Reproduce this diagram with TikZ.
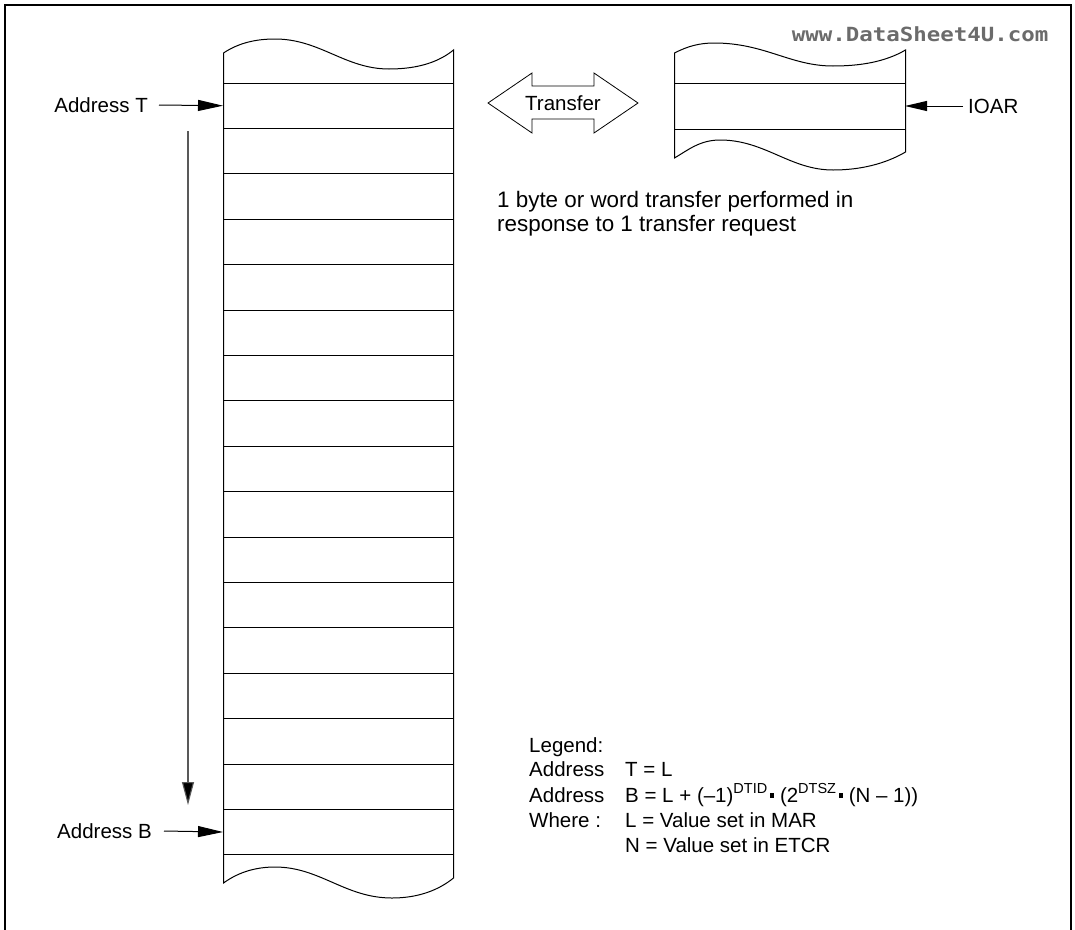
\documentclass[tikz,border=0pt]{standalone}
\usepackage{fontspec}
\setmainfont{Liberation Sans}
\newfontfamily\wmfont{DejaVu Sans Mono}
\usetikzlibrary{arrows.meta}
\newcommand{\mysup}[1]{\raisebox{0.4em}{\fontsize{14.5}{14.5}\selectfont #1}}
\newcommand{\mydot}{\hspace{0.12em}\rule[0.22em]{0.2em}{0.2em}\hspace{0.3em}}
\begin{document}
\begin{tikzpicture}[x=1pt,y=-1pt,
  lbl/.style={font=\fontsize{20.5}{24}\selectfont, inner sep=0pt},
  memline/.style={line width=1pt},
  ptr/.style={line width=1pt, -{Triangle[length=25pt,width=11pt]}},
  vptr/.style={line width=1.1pt, draw=black!65, -{Triangle[length=23pt,width=12pt,fill=black]}},
  iptr/.style={line width=1pt, -{Triangle[length=22pt,width=10pt]}},
]
\useasboundingbox (0,0) rectangle (1075,929);
\draw[line width=2.5pt] (5,935) -- (5,5) -- (1071,5) -- (1071,935);

% memory column
\draw[memline] (223.5,53) .. controls (240,42) and (258,39) .. (275,39)
  .. controls (320,39) and (345,69) .. (389,69)
  .. controls (420,69) and (440,61) .. (453.5,50) -- (453.5,878)
  .. controls (440,889) and (420,898) .. (392,898)
  .. controls (345,898) and (320,867) .. (275,867)
  .. controls (258,867) and (240,871) .. (223.5,883) -- cycle;
\foreach \i in {0,...,17} {
  \draw[memline] (223.5,{floor(83+45.41*\i)+0.5}) -- (453.5,{floor(83+45.41*\i)+0.5});
}
\coordinate (colT) at (223,105.7);
\coordinate (colB) at (223,832);
\coordinate (vtop) at (188,131);
\coordinate (vbot) at (188,805);

\node[lbl, anchor=east] (addrT) at (148,105) {Address T};
\node[lbl, anchor=east] (addrB) at (152,831) {Address B};
\draw[ptr] ([xshift=11pt]addrT.east) -- (colT);
\draw[ptr] ([xshift=12pt]addrB.east) -- (colB);
\draw[vptr] (vtop) -- (vbot);

% transfer double arrow
\draw[line width=0.8pt, line join=miter] (488,103) -- (532,73) -- (532,86) -- (594,86) -- (594,73)
  -- (638,103) -- (594,133) -- (594,119) -- (532,119) -- (532,133) -- cycle;
\node[lbl] (transfer) at (563,103) {Transfer};

% IO block
\draw[memline] (674.5,53) .. controls (688,46) and (700,43) .. (714,43)
  .. controls (765,43) and (790,66) .. (833,66)
  .. controls (860,66) and (885,62) .. (905.5,50) -- (905.5,152)
  .. controls (885,164) and (860,170) .. (833,170)
  .. controls (790,170) and (765,140) .. (720,140)
  .. controls (700,140) and (688,150) .. (674.5,158) -- cycle;
\draw[memline] (674.5,83.5) -- (905.5,83.5);
\draw[memline] (674.5,129.5) -- (905.5,129.5);
\coordinate (ioR) at (905,106);
\node[lbl, anchor=west] (ioar) at (968,106) {IOAR};
\draw[iptr] ([xshift=-5pt]ioar.west) -- (ioR);

\node[lbl, anchor=north west, align=left, font=\fontsize{22.4}{24}\selectfont] (note) at (497,191)
  {1 byte or word transfer performed in\\response to 1 transfer request};

% watermark
\node[fill=white, fill opacity=0.55, text opacity=1, inner sep=2pt, text=black!58,
  font=\wmfont\bfseries\fontsize{19.5}{20}\selectfont] (wm) at (920,34)
  {\scalebox{1.15}[1]{www.DataSheet4U.com}};

% legend
\node[lbl, anchor=base west] (lg0) at (529,752) {Legend:};
\node[lbl, anchor=base west] (lg1) at (529,776) {Address};
\node[lbl, anchor=base west] (lg1b) at (625,776) {T = L};
\node[lbl, anchor=base west] (lg2) at (529,802) {Address};
\node[lbl, anchor=base west] (lg2b) at (625,802) {B = L + (–1)\mysup{DTID}\mydot(2\mysup{DTSZ}\mydot(N – 1))};
\node[lbl, anchor=base west] (lg3) at (529,827) {Where :};
\node[lbl, anchor=base west] (lg3b) at (625,827) {L = Value set in MAR};
\node[lbl, anchor=base west] (lg4) at (625,852) {N = Value set in ETCR};
\end{tikzpicture}
\end{document}
